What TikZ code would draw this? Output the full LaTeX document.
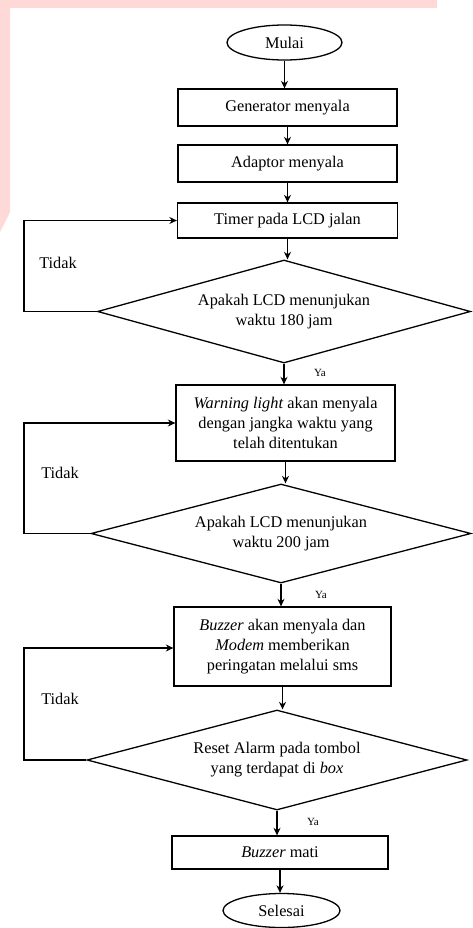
\documentclass[tikz,border=0pt]{standalone}
\usepackage{fontspec}
\setmainfont{Liberation Serif}
\usetikzlibrary{shapes.geometric,arrows.meta}
\definecolor{pinkband}{HTML}{FFD8D8}
\begin{document}
\begin{tikzpicture}[x=1pt,y=-1pt,
  every node/.style={font=\fontsize{16.3}{20}\selectfont},
  termbox/.style={draw,ellipse,line width=1.3pt,minimum width=115pt,minimum height=35pt,inner sep=0pt},
  procbox/.style={draw,rectangle,line width=1.3pt,inner sep=0pt,align=center},
  decbox/.style={draw,diamond,line width=1.3pt,inner sep=0pt,align=center},
  flow/.style={line width=1.3pt,-{Stealth[length=7.5pt,width=7pt]}},
  lbl/.style={inner sep=0pt},
  yalbl/.style={inner sep=0pt,font=\fontsize{11}{13}\selectfont}]
\useasboundingbox (0,0) rectangle (472,928);
\fill[pinkband] (0,0) -- (437,0) -- (437,8) -- (10,8) -- (10,212) -- (0,232) -- cycle;

\node[termbox] (mulai) at (284.5,42.5) {Mulai};
\node[procbox,minimum width=219pt,minimum height=37pt] (gen) at (287.5,107.5) {Generator menyala};
\node[procbox,minimum width=219pt,minimum height=37pt] (adp) at (287.5,163.5) {Adaptor menyala};
\node[procbox,minimum width=220pt,minimum height=35pt] (timer) at (287.5,220.5) {Timer pada LCD jalan};
\node[decbox,aspect=3.621,minimum width=373pt,minimum height=103pt] (d1) at (284,311.5) {Apakah LCD menunjukan\\waktu 180 jam};
\node[procbox,minimum width=219pt,minimum height=76pt] (warn) at (285.5,423) {\textit{Warning light} akan menyala\\dengan jangka waktu yang\\telah ditentukan};
\node[decbox,aspect=3.838,minimum width=380pt,minimum height=99pt] (d2) at (281,533.5) {Apakah LCD menunjukan\\waktu 200 jam};
\node[procbox,minimum width=217pt,minimum height=79pt] (buz) at (282.5,646.5) {\textit{Buzzer} akan menyala dan\\\textit{Modem} memberikan\\peringatan melalui sms};
\node[decbox,aspect=3.8,minimum width=380pt,minimum height=100pt] (d3) at (277,760) {Reset Alarm pada tombol\\yang terdapat di \textit{box}};
\node[procbox,minimum width=216pt,minimum height=33pt] (mati) at (280,852.5) {\textit{Buzzer} mati};
\node[termbox,minimum width=117pt,minimum height=34pt] (selesai) at (281.5,910.5) {Selesai};

\draw[flow] (mulai.south) -- (mulai.south |- gen.north);
\draw[flow] (gen.south) -- (gen.south |- adp.north);
\draw[flow] (adp.south) -- (adp.south |- timer.north);
\draw[flow] (timer.south) -- (timer.south |- d1.north);
\draw[flow] (d1.south) -- (d1.south |- warn.north);
\draw[flow] (warn.south) -- (warn.south |- d2.north);
\draw[flow] (d2.south) -- (d2.south |- buz.north);
\draw[flow] (buz.south) -- (buz.south |- d3.north);
\draw[flow] (d3.south) -- (d3.south |- mati.north);
\draw[flow] (mati.south) -- (mati.south |- selesai.north);

\coordinate (l1a) at (24,311.5);
\coordinate (l1b) at (24,220.5);
\draw[flow] (d1.west) -- (l1a) -- (l1b) -- (timer.west);
\coordinate (l2a) at (24,533.5);
\coordinate (l2b) at (24,423);
\draw[flow] (d2.west) -- (l2a) -- (l2b) -- (warn.west);
\coordinate (l3a) at (24,760);
\coordinate (l3b) at (24,648);
\draw[flow] (d3.west) -- (l3a) -- (l3b) -- (buz.west |- l3b);

\node[lbl] (t1) at (58,263) {Tidak};
\node[lbl] (t2) at (60,473) {Tidak};
\node[lbl] (t3) at (60,699) {Tidak};
\node[yalbl] (y1) at (320,373) {Ya};
\node[yalbl] (y2) at (321,595) {Ya};
\node[yalbl] (y3) at (313,822) {Ya};
\end{tikzpicture}
\end{document}
